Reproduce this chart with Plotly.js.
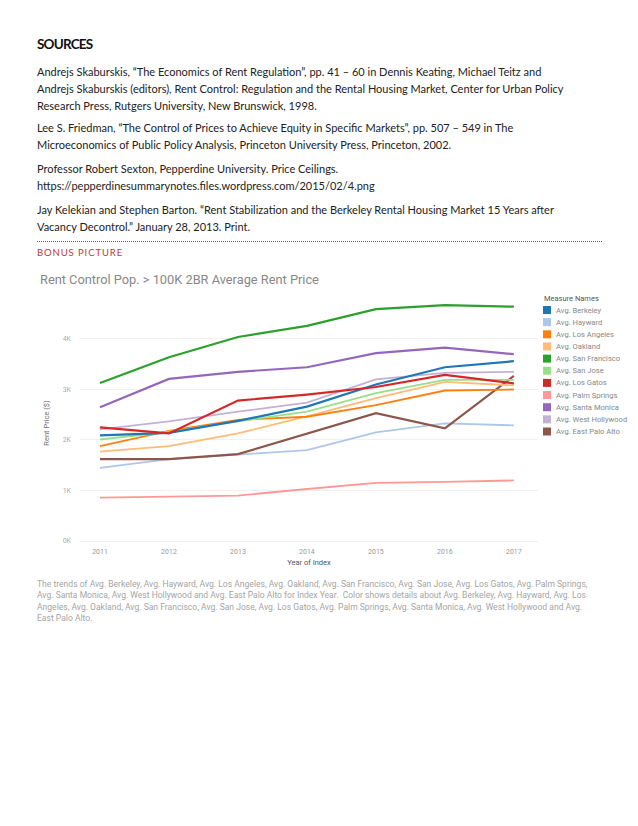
<!DOCTYPE html>
<html>
<head>
<meta charset="utf-8">
<script src="https://cdn.plot.ly/plotly-3.0.1.min.js"></script>
<style>
  html, body { margin: 0; padding: 0; background: #fff; }
  body { width: 638px; height: 826px; position: relative; overflow: hidden; font-family: Lato, "Open Sans", sans-serif; color: #222; }
  .abs { position: absolute; white-space: nowrap; }
  #sources { left: 37px; top: 36px; font-weight: bold; font-size: 13.5px; letter-spacing: -0.8px; color: #111; }
  .para { left: 37px; font-size: 11px; line-height: 17px; color: #222; }
  #rule { left: 37px; top: 241px; width: 565px; height: 0; border-top: 1px dotted #c0392b; }
  #bonus { left: 37px; top: 247px; font-size: 9.5px; letter-spacing: 0.9px; color: #c0392b; }
  #chart { position: absolute; left: 0; top: 260px; width: 638px; height: 330px; }
  #caption { left: 37px; top: 579px; font-family: Roboto, "Open Sans", sans-serif; font-size: 8.55px; line-height: 11.4px; color: #a5a5a5; }
</style>
</head>
<body>
<div id="sources" class="abs">SOURCES</div>
<div class="abs para" style="top:63px">Andrejs Skaburskis, “The Economics of Rent Regulation”, pp. 41 – 60 in Dennis Keating, Michael Teitz and<br>Andrejs Skaburskis (editors), Rent Control: Regulation and the Rental Housing Market, Center for Urban Policy<br>Research Press, Rutgers University, New Brunswick, 1998.</div>
<div class="abs para" style="top:119px">Lee S. Friedman, “The Control of Prices to Achieve Equity in Specific Markets”, pp. 507 – 549 in The<br>Microeconomics of Public Policy Analysis, Princeton University Press, Princeton, 2002.</div>
<div class="abs para" style="top:160px">Professor Robert Sexton, Pepperdine University. Price Ceilings.<br>https://pepperdinesummarynotes.files.wordpress.com/2015/02/4.png</div>
<div class="abs para" style="top:201px">Jay Kelekian and Stephen Barton. “Rent Stabilization and the Berkeley Rental Housing Market 15 Years after<br>Vacancy Decontrol.” January 28, 2013. Print.</div>
<div id="rule" class="abs"></div>
<div id="bonus" class="abs">BONUS PICTURE</div>
<div id="chart"></div>
<div id="caption" class="abs">The trends of Avg. Berkeley, Avg. Hayward, Avg. Los Angeles, Avg. Oakland, Avg. San Francisco, Avg. San Jose, Avg. Los Gatos, Avg. Palm Springs,<br>Avg. Santa Monica, Avg. West Hollywood and Avg. East Palo Alto for Index Year.&nbsp; Color shows details about Avg. Berkeley, Avg. Hayward, Avg. Los<br>Angeles, Avg. Oakland, Avg. San Francisco, Avg. San Jose, Avg. Los Gatos, Avg. Palm Springs, Avg. Santa Monica, Avg. West Hollywood and Avg.<br>East Palo Alto.</div>
<script>
// ---- data ----
var years = [2011, 2012, 2013, 2014, 2015, 2016, 2017];
var berkeley      = [2090, 2140, 2380, 2660, 3100, 3440, 3560];
var hayward       = [1450, 1620, 1710, 1800, 2150, 2330, 2290];
var losAngeles    = [1880, 2180, 2400, 2460, 2690, 2980, 3000];
var oakland       = [1770, 1880, 2130, 2470, 2830, 3150, 3080];
var sanFrancisco  = [3130, 3640, 4040, 4260, 4590, 4670, 4640];
var sanJose       = [2010, 2160, 2370, 2560, 2930, 3190, 3190];
var losGatos      = [2250, 2130, 2780, 2900, 3050, 3290, 3120];
var palmSprings   = [860, 880, 900, 1030, 1150, 1170, 1200];
var santaMonica   = [2650, 3210, 3350, 3440, 3720, 3830, 3700];
var westHollywood = [2210, 2370, 2560, 2740, 3200, 3330, 3350];
var eastPaloAlto  = [1620, 1620, 1720, 2120, 2530, 2230, 3270];

var seriesNames = ["Avg. Berkeley", "Avg. Hayward", "Avg. Los Angeles", "Avg. Oakland", "Avg. San Francisco",
  "Avg. San Jose", "Avg. Los Gatos", "Avg. Palm Springs", "Avg. Santa Monica", "Avg. West Hollywood", "Avg. East Palo Alto"];
var seriesValues = [berkeley, hayward, losAngeles, oakland, sanFrancisco, sanJose, losGatos, palmSprings, santaMonica, westHollywood, eastPaloAlto];
var seriesColors = ["#1f77b4", "#aec7e8", "#ff7f0e", "#ffbb78", "#2ca02c", "#98df8a", "#d62728", "#ff9896", "#9467bd", "#c5b0d5", "#8c564b"];
// draw order (back to front)
var drawOrder = [7, 1, 10, 3, 2, 5, 9, 0, 6, 8, 4];

var yTickVals = [0, 1000, 2000, 3000, 4000];
var yTickText = ["0K", "1K", "2K", "3K", "4K"];
var xTickText = ["2011", "2012", "2013", "2014", "2015", "2016", "2017"];

// ---- geometry (page pixels) ----
var DIV_TOP = 260, DIV_H = 330, DIV_W = 638;
var PLOT_L = 80, PLOT_R = 538, PLOT_T = 300, PLOT_B = 546;
var PW = PLOT_R - PLOT_L, PH = PLOT_B - PLOT_T;
function px(x) { return (x - PLOT_L) / PW; }
function py(y) { return (PLOT_B - y) / PH; }

var traces = drawOrder.map(function (i) {
  return {
    type: "scatter", mode: "lines", x: years, y: seriesValues[i], name: seriesNames[i],
    line: { color: seriesColors[i], width: (i === 4 || i === 8 || i === 0 || i === 6 || i === 10) ? 2.2 : 1.8 },
    showlegend: false, hoverinfo: "x+y+name"
  };
});

var shapes = [], annotations = [];
annotations.push({ xref: "paper", yref: "paper", x: px(542), y: py(298), xanchor: "left", yanchor: "middle",
  text: "Measure Names", showarrow: false, font: { family: "Roboto, 'Open Sans', sans-serif", size: 7.5, color: "#555" } });
var LEG_Y0 = 310, LEG_DY = 12.15;
seriesNames.forEach(function (n, k) {
  var yc = LEG_Y0 + k * LEG_DY;
  shapes.push({ type: "rect", xref: "paper", yref: "paper", x0: px(543), x1: px(551), y0: py(yc + 4), y1: py(yc - 4),
    fillcolor: seriesColors[k], line: { width: 0 } });
  annotations.push({ xref: "paper", yref: "paper", x: px(554), y: py(yc), xanchor: "left", yanchor: "middle",
    text: n, showarrow: false, font: { family: "Roboto, 'Open Sans', sans-serif", size: 7.6, color: "#888" } });
});

var layout = {
  width: DIV_W, height: DIV_H,
  margin: { l: PLOT_L, r: DIV_W - PLOT_R, t: PLOT_T - DIV_TOP, b: DIV_TOP + DIV_H - PLOT_B, pad: 0 },
  paper_bgcolor: "rgba(0,0,0,0)", plot_bgcolor: "rgba(0,0,0,0)",
  title: { text: "Rent Control Pop. > 100K 2BR Average Rent Price", xref: "container", yref: "container",
    x: 40 / DIV_W, xanchor: "left", y: 1 - (280 - DIV_TOP) / DIV_H, yanchor: "middle",
    font: { family: "Roboto, 'Open Sans', sans-serif", size: 12.8, color: "#888" } },
  xaxis: {
    range: [2010.71, 2017.35], tickvals: years, ticktext: xTickText, showgrid: false, zeroline: false,
    showline: false, ticks: "", tickfont: { family: "Roboto, 'Open Sans', sans-serif", size: 7, color: "#999" },
    title: { text: "Year of Index", standoff: 4, font: { family: "Roboto, 'Open Sans', sans-serif", size: 7.5, color: "#555" } }
  },
  yaxis: {
    range: [-99, 4772], tickvals: yTickVals, ticktext: yTickText, showgrid: true, gridcolor: "#f1f1f1", gridwidth: 1,
    zeroline: false, showline: false, ticks: "", ticklabelstandoff: 8,
    tickfont: { family: "Roboto, 'Open Sans', sans-serif", size: 7, color: "#aaa" },
    title: { text: "Rent Price ($)", standoff: 12, font: { family: "Roboto, 'Open Sans', sans-serif", size: 7.5, color: "#777" } }
  },
  shapes: shapes, annotations: annotations, showlegend: false
};

Plotly.newPlot("chart", traces, layout, { displayModeBar: false, staticPlot: true });
</script>
</body>
</html>
